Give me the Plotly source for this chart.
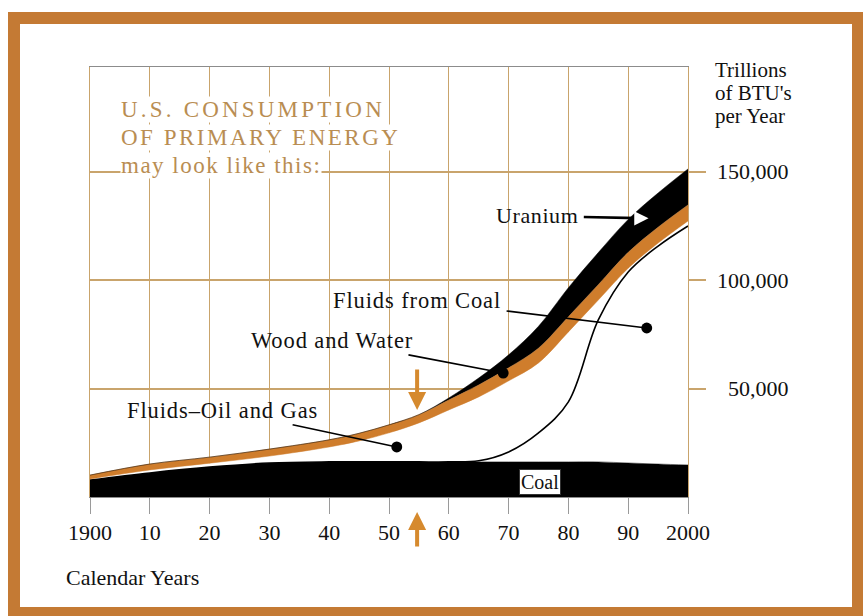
import plotly.graph_objects as go

# ---- data (trillions of BTU per year) ----
years = [1900, 1910, 1920, 1930, 1940, 1945, 1950, 1955, 1960, 1965,
         1970, 1975, 1980, 1985, 1990, 1995, 2000]
coal = [7800, 11100, 13800, 15700, 16200, 16200, 16200, 16200, 16200, 16200,
        16200, 16200, 16200, 16200, 15700, 15200, 14800]
fluids_from_coal = [0, 0, 0, 0, 0, 0, 0, 0, 0, 500,
                    4600, 13400, 27700, 65500, 88100, 100600, 110300]
oil_and_gas = [500, 1400, 1800, 3200, 6900, 9700, 13400, 18000, 24000, 29500,
               32800, 32300, 32300, 9200, 1800, 1400, 2300]
wood_and_water = [1800, 2700, 2800, 3200, 3300, 3500, 3700, 3800, 4600, 5500,
                  6000, 6800, 7000, 7100, 7300, 7300, 7400]
uranium = [0, 0, 0, 0, 0, 0, 0, 0, 900, 3200,
           6000, 10100, 13400, 14800, 15200, 15800, 16600]

tick_years = [1900, 1910, 1920, 1930, 1940, 1950, 1960, 1970, 1980, 1990, 2000]
tick_text = ["1900", "10", "20", "30", "40", "50", "60", "70", "80", "90", "2000"]
value_ticks = [50000, 100000, 150000]
value_text = ["50,000", "100,000", "150,000"]

# ---- styling ----
W, H = 863, 616
L, R, T, B = 90, 175, 67, 119
SERIF = "Liberation Serif, Times New Roman, serif"
INK = "#111111"
ORANGE = "#CF7D2C"
FRAME = "#C47A34"
GRID = "#c9a46c"
TITLE = "#b98d52"
Y_MAX = 198450

def px_x(p):
    return (p - L) / (W - L - R)

def px_y(p):
    return (H - B - p) / (H - T - B)

fig = go.Figure()

layers = [
    ("Coal", coal, "black", "black", 0.5),
    ("Fluids from Coal", fluids_from_coal, "white", "black", 1.6),
    ("Fluids-Oil and Gas", oil_and_gas, "white", ORANGE, 0.5),
    ("Wood and Water", wood_and_water, ORANGE, ORANGE, 0.5),
    ("Uranium", uranium, "black", "black", 0.5),
]
for name, vals, fcol, lcol, lw in layers:
    fig.add_trace(go.Scatter(
        x=years, y=vals, name=name, stackgroup="energy", mode="lines",
        fillcolor=fcol, line=dict(color=lcol, width=lw, shape="spline", smoothing=1.0),
        hoverinfo="skip", showlegend=False,
    ))

ann = []

# title block
title_lines = [
    ("U.S. CONSUMPTION", 109, 3.2),
    ("OF PRIMARY ENERGY", 137, 2.5),
    ("may look like this:", 165, 1.5),
]
for txt, yc, sp in title_lines:
    ann.append(dict(
        text=f'<span style="letter-spacing:{sp}px">{txt}</span>',
        xref="paper", yref="paper", x=px_x(120), y=px_y(yc),
        xanchor="left", yanchor="middle", showarrow=False,
        bgcolor="white", borderpad=0,
        font=dict(family=SERIF, size=23, color=TITLE),
    ))

# unit label on the right
for txt, yc in [("Trillions", 70), ("of BTU's", 93), ("per Year", 116)]:
    ann.append(dict(
        text=txt, xref="paper", yref="paper", x=px_x(713), y=px_y(yc),
        xanchor="left", yanchor="middle", showarrow=False,
        font=dict(family=SERIF, size=21, color=INK),
    ))

# right-hand value labels
for v, t in zip(value_ticks, value_text):
    ann.append(dict(
        text=t, xref="paper", yref="y", x=px_x(791), y=v,
        xanchor="right", yanchor="middle", showarrow=False,
        font=dict(family=SERIF, size=22, color=INK),
    ))

# axis caption
ann.append(dict(
    text="Calendar Years", xref="paper", yref="paper", x=px_x(64), y=px_y(577),
    xanchor="left", yanchor="middle", showarrow=False,
    font=dict(family=SERIF, size=22, color=INK),
))

# pointer labels with dot ends
pointers = [
    ("Fluids from Coal", (1954.7, 90900), (1993.1, 78000)),
    ("Wood and Water", (1940.4, 72400), (1969.1, 57200)),
    ("Fluids\u2013Oil and Gas", (1922.2, 40150), (1951.3, 23100)),
]
for txt, (tx, ty), (hx, hy) in pointers:
    ann.append(dict(
        text=f'<span style="letter-spacing:0.9px">{txt}</span>',
        x=hx, y=hy, ax=tx, ay=ty, xref="x", yref="y", axref="x", ayref="y",
        showarrow=True, arrowhead=6, arrowsize=1.7, arrowwidth=1.6,
        arrowcolor="black", standoff=0, startstandoff=4,
        font=dict(family=SERIF, size=22.5, color=INK),
    ))

# uranium pointer: black leader ending in a white head inside the band
ann.append(dict(
    text='<span style="letter-spacing:0.6px">Uranium</span>',
    x=1991.6, y=128700, ax=1974.8, ay=129700, xref="x", yref="y", axref="x", ayref="y",
    showarrow=True, arrowhead=0, arrowwidth=2.6, arrowcolor="black", startstandoff=4,
    font=dict(family=SERIF, size=22, color=INK),
))
ann.append(dict(
    text="", x=1993.4, y=128600, ax=-12, ay=0, xref="x", yref="y",
    showarrow=True, arrowhead=2, arrowsize=1.3, arrowwidth=2.2, arrowcolor="white",
))

# coal label box
ann.append(dict(
    text="Coal", x=1975.25, y=7150, xref="x", yref="y", showarrow=False,
    bgcolor="white", bordercolor="#333", borderwidth=1, borderpad=1,
    font=dict(family=SERIF, size=20, color=INK),
))

# orange markers for the present year
ann.append(dict(
    text="", x=1954.7, y=40150, ax=1954.7, ay=59500, xref="x", yref="y",
    axref="x", ayref="y", showarrow=True, arrowhead=2, arrowsize=0.9,
    arrowwidth=4, arrowcolor="#D68A2E",
))
ann.append(dict(
    text="", x=1954.7, y=px_y(512), ax=0, ay=36, xref="x", yref="paper",
    showarrow=True, arrowhead=2, arrowsize=0.9, arrowwidth=4, arrowcolor="#D68A2E",
))

# outer frame
def band(x0, x1, y0, y1):
    return dict(type="rect", xref="paper", yref="paper", layer="above",
                x0=px_x(x0), x1=px_x(x1), y0=px_y(y1), y1=px_y(y0),
                fillcolor=FRAME, line=dict(width=0))

shapes = [
    band(8, 863, 12, 24),
    band(8, 863, 607, 616),
    band(8, 20, 12, 616),
    band(852, 863, 12, 616),
]

fig.update_layout(
    width=W, height=H,
    margin=dict(l=L, r=R, t=T, b=B),
    paper_bgcolor="white", plot_bgcolor="white",
    hovermode=False,
    annotations=ann, shapes=shapes,
    xaxis=dict(
        range=[1900, 2000], tickvals=tick_years, ticktext=tick_text,
        ticks="outside", ticklen=16, tickwidth=1, tickcolor="#9a9a9a",
        tickfont=dict(family=SERIF, size=22, color=INK),
        showgrid=True, gridcolor=GRID, gridwidth=1,
        showline=True, linecolor="#8c8c8c", linewidth=1, mirror=True,
        zeroline=False, fixedrange=True,
    ),
    yaxis=dict(
        range=[0, Y_MAX], side="right", tickvals=value_ticks, showticklabels=False,
        ticks="outside", ticklen=17, tickwidth=1.5, tickcolor=GRID,
        showgrid=True, gridcolor=GRID, gridwidth=1.5,
        showline=True, linecolor=GRID, linewidth=1, mirror=True,
        zeroline=False, fixedrange=True,
    ),
)

fig.write_html("out.html", config={"displayModeBar": False})
